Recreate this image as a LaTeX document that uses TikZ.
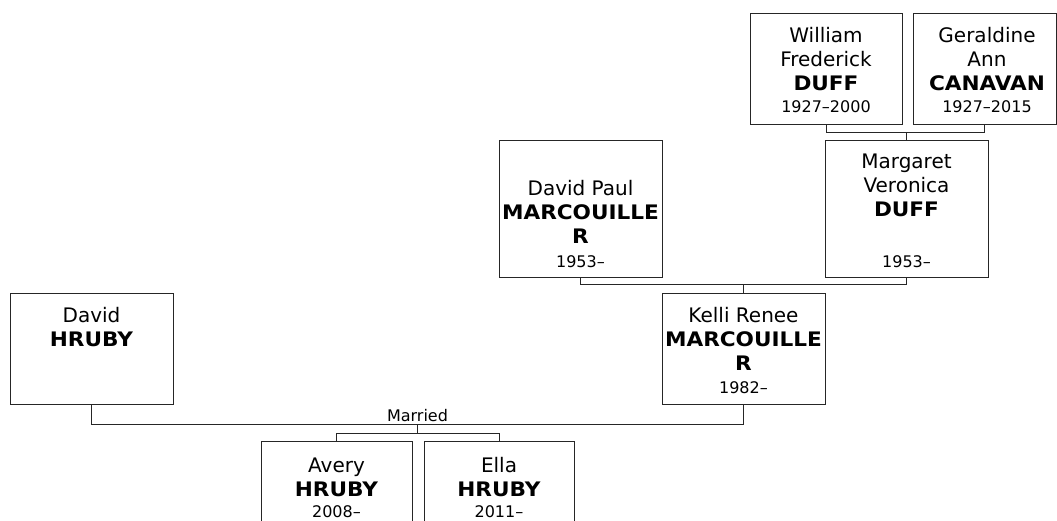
\documentclass[tikz,border=0pt]{standalone}
\usepackage{fontspec}
\setmainfont{DejaVu Sans}[BoldFeatures={FakeStretch=1.08}]

\newcommand{\namefont}{\fontsize{15}{18}\selectfont}
\newcommand{\yearfont}{\fontsize{12}{14}\selectfont}

\begin{document}
\begin{tikzpicture}[x=0.75pt, y=-0.75pt,
    pbox/.style={draw=black!85, line width=0.75pt, inner sep=0pt},
    who/.style={anchor=north, align=center, inner sep=0pt, font=\namefont},
    yrs/.style={anchor=base, inner sep=0pt, font=\yearfont},
    link/.style={draw=black!85, line width=0.75pt}]
    \path[use as bounding box, clip] (0,0) rectangle (1057,521);

    % grandparents
    \node[pbox, minimum width=114pt, minimum height=83.25pt] (william) at (826,68.5) {};
    \node[who] (williamname) at (826,25.2) {\strut William\\Frederick\\\textbf{DUFF}};
    \node[yrs] (williamyear) at (826,112) {1927–2000};

    \node[pbox, minimum width=107.25pt, minimum height=83.25pt] (geraldine) at (984.5,68.5) {};
    \node[who] (geraldinename) at (987,25.2) {\strut Geraldine\\Ann\\\textbf{CANAVAN}};
    \node[yrs] (geraldineyear) at (987,112) {1927–2015};

    % parents
    \node[pbox, minimum width=122.25pt, minimum height=102.75pt] (davidpaul) at (580.5,208.5) {};
    \node[who] (davidpaulname) at (580.5,178.2) {\strut David Paul\\\textbf{MARCOUILLE}\\\textbf{R}};
    \node[yrs] (davidpaulyear) at (580.5,267) {1953–};

    \node[pbox, minimum width=122.25pt, minimum height=102.75pt] (margaret) at (906.5,208.5) {};
    \node[who] (margaretname) at (906.5,151.2) {\strut Margaret\\Veronica\\\textbf{DUFF}};
    \node[yrs] (margaretyear) at (906.5,267) {1953–};

    % couple
    \node[pbox, minimum width=122.25pt, minimum height=83.25pt] (davidh) at (91.5,348.5) {};
    \node[who] (davidhname) at (91.5,305.2) {\strut David\\\textbf{HRUBY}};

    \node[pbox, minimum width=122.25pt, minimum height=83.25pt] (kelli) at (743.5,348.5) {};
    \node[who] (kelliname) at (743.5,305.2) {\strut Kelli Renee\\\textbf{MARCOUILLE}\\\textbf{R}};
    \node[yrs] (kelliyear) at (743.5,393) {1982–};

    % children
    \node[pbox, minimum width=113.25pt, minimum height=89.25pt] (avery) at (336.5,500.5) {};
    \node[who] (averyname) at (336.5,455.2) {\strut Avery\\\textbf{HRUBY}};
    \node[yrs] (averyyear) at (336.5,517) {2008–};

    \node[pbox, minimum width=112.5pt, minimum height=89.25pt] (ella) at (499,500.5) {};
    \node[who] (ellaname) at (499,455.2) {\strut Ella\\\textbf{HRUBY}};
    \node[yrs] (ellayear) at (499,517) {2011–};

    % links
    \draw[link] (william.south) -- ++(0,8) -| (geraldine.south);
    \draw[link] (margaret.north) -- ++(0,-8);
    \draw[link] (davidpaul.south) -- ++(0,7) -| (margaret.south);
    \draw[link] (kelli.north) -- ++(0,-9);
    \draw[link] (davidh.south) -- ++(0,20) -| (kelli.south)
        coordinate[pos=0.25] (wed)
        node[pos=0.25, above, font=\yearfont, inner sep=2pt] (married) {Married};
    \draw[link] (wed) -- ++(0,9) coordinate (kids);
    \draw[link] (avery.north) |- (kids) -| (ella.north);
\end{tikzpicture}
\end{document}
